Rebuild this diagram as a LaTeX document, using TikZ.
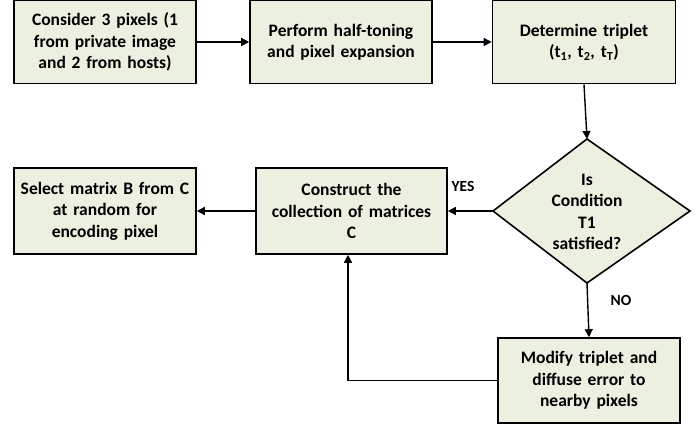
\documentclass[tikz,border=0pt]{standalone}
\usepackage{fontspec}
\setmainfont{Carlito}
\usetikzlibrary{shapes.geometric,arrows.meta}
\definecolor{boxfill}{RGB}{236,240,224}
\tikzset{
  x=1pt,y=-1pt,
  procbox/.style={draw=black, line width=1.6pt, fill=boxfill, inner sep=0pt, align=center,
    font=\bfseries\fontsize{17.5}{21.5}\selectfont, text width=#1-6pt},
  conn/.style={line width=1.4pt, -{Triangle[length=8pt,width=8pt]}},
  lbl/.style={font=\bfseries\fontsize{15.5}{17}\selectfont}
}
\begin{document}
\begin{tikzpicture}
\useasboundingbox (0,0) rectangle (697,428);
\node[procbox=182pt, minimum width=182pt, minimum height=83pt] (consider) at (105,42) {Consider 3 pixels (1\\from private image\\and 2 from hosts)};
\node[procbox=182pt, minimum width=182pt, minimum height=83pt] (perform) at (341,42) {Perform half-toning\\and pixel expansion};
\node[procbox=183pt, minimum width=183pt, minimum height=83pt] (determine) at (584,42) {Determine triplet\\(t\textsubscript{1}, t\textsubscript{2}, t\textsubscript{T})};
\draw[draw=black, line width=1.6pt, fill=boxfill] (587,139) -- (690,211) -- (587,283) -- (493,211) -- cycle;
\node[align=center, font=\bfseries\fontsize{17.5}{21.5}\selectfont] (cond) at (587,212) {Is\\Condition\\T1\\satisfied?};
\coordinate (dtop) at (587,139);
\coordinate (dleft) at (493,211);
\coordinate (dbot) at (587,283);
\node[procbox=191pt, minimum width=191pt, minimum height=86pt] (construct) at (351.5,211) {Construct the\\collection of matrices\\C};
\node[procbox=182pt, minimum width=182pt, minimum height=86pt] (select) at (105,211) {Select matrix B from C\\at random for\\encoding pixel};
\node[procbox=182pt, minimum width=182pt, minimum height=85pt] (modify) at (589,380.5) {Modify triplet and\\diffuse error to\\nearby pixels};
\draw[conn] (consider.east) -- (perform.west);
\draw[conn] (perform.east) -- (determine.west);
\draw[conn] (determine.south) -- (dtop);
\draw[conn] (dleft) -- (construct.east);
\draw[conn] (construct.west) -- (select.east);
\draw[conn] (dbot) -- (modify.north);
\draw[conn] (modify.west) -| (construct.south -| 348,0);
\node[lbl] (yes) at (463,186) {YES};
\node[lbl] (no) at (621,300) {NO};
\end{tikzpicture}
\end{document}
